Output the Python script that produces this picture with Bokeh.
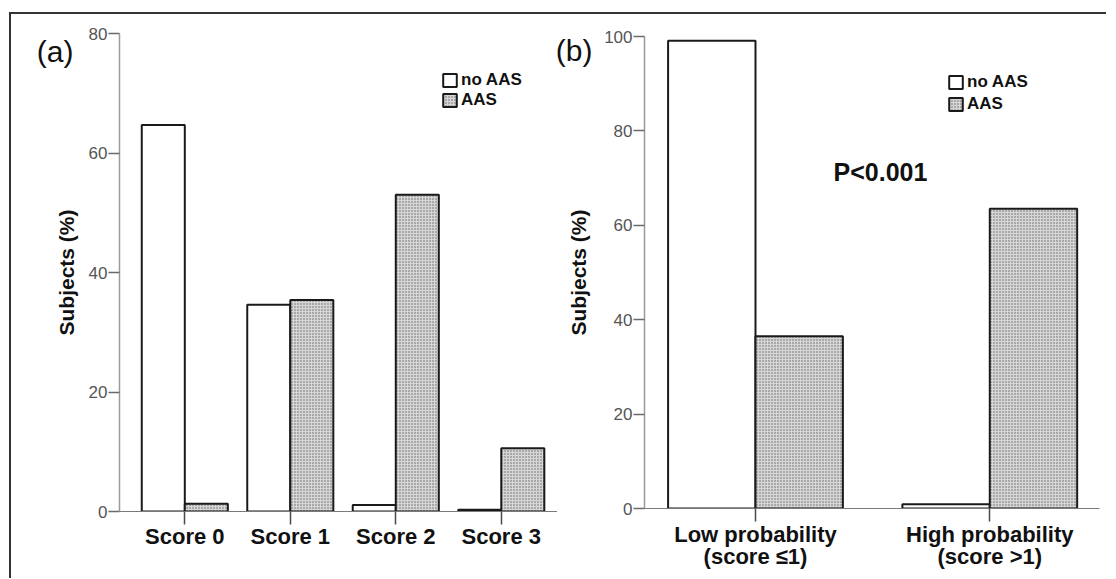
from bokeh.plotting import figure
from bokeh.models import (Range1d, FixedTicker, Legend, LegendItem, Label,
                          ColumnDataSource, LinearAxis)
from bokeh.layouts import row
from bokeh.transform import dodge
from bokeh.embed import file_html
from bokeh.resources import INLINE

# ---- data ----
cats_a = ["Score 0", "Score 1", "Score 2", "Score 3"]
no_aas_a = [64.7, 34.6, 1.1, 0.3]
aas_a = [1.3, 35.4, 53.0, 10.6]

cats_b = ["Low probability\n(score \u22641)", "High probability\n(score >1)"]
no_aas_b = [99.1, 0.9]
aas_b = [36.5, 63.5]

series_names = ["no AAS", "AAS"]
yticks_a = [0, 20, 40, 60, 80]
yticks_b = [0, 20, 40, 60, 80, 100]
panel_a = "(a)"
panel_b = "(b)"
y_title = "Subjects (%)"
p_text = "P<0.001"

FONT = "Liberation Sans"
BAR_LINE = "#1a1a1a"
AAS_FILL = "#d6d6d6"


def style_axes(p, yticks, xlabel_standoff):
    xa = p.xaxis[0]
    ya = p.yaxis[0]
    xa.axis_line_color = "#7a7a7a"
    xa.axis_line_width = 1.2
    xa.major_tick_line_color = "#4a4a4a"
    xa.major_tick_line_width = 1.5
    xa.major_tick_out = 13
    xa.major_tick_in = 0
    xa.minor_tick_line_color = None
    xa.major_label_text_font = FONT
    xa.major_label_text_font_style = "bold"
    xa.major_label_text_font_size = "22px"
    xa.major_label_text_color = "#111111"
    xa.major_label_standoff = xlabel_standoff
    xa.major_label_text_line_height = 0.9

    ya.axis_line_color = "#9a9a9a"
    ya.axis_line_width = 1.5
    ya.major_tick_line_color = "#6a6a6a"
    ya.major_tick_line_width = 1.5
    ya.major_tick_out = 11
    ya.major_tick_in = 0
    ya.minor_tick_line_color = None
    ya.ticker = FixedTicker(ticks=yticks)
    ya.major_label_text_font = FONT
    ya.major_label_text_font_size = "17px"
    ya.major_label_text_color = "#555555"
    ya.major_label_standoff = 1

    p.xgrid.grid_line_color = None
    p.ygrid.grid_line_color = None
    p.outline_line_color = None
    p.background_fill_color = "white"
    p.border_fill_color = "white"


def make_panel(cats, no_aas, aas, yticks, width, height, x_range, bar_w,
               borders, legend_pos, legend_spacing, tag, tag_y, tag_standoff,
               title_standoff, xlabel_standoff):
    idx = list(range(1, len(cats) + 1))
    src = ColumnDataSource(dict(x=idx, no=no_aas, yes=aas))
    p = figure(width=width, height=height, output_backend="svg",
               toolbar_location=None,
               x_range=Range1d(*x_range), y_range=Range1d(0, yticks[-1]),
               min_border_left=borders[0], min_border_right=borders[1],
               min_border_top=borders[2], min_border_bottom=borders[3])
    try:
        p.frame_align = False
    except AttributeError:
        pass
    r1 = p.vbar(x=dodge("x", -bar_w / 2, range=p.x_range), top="no", width=bar_w,
                source=src, fill_color="white", line_color=BAR_LINE, line_width=2)
    r2 = p.vbar(x=dodge("x", bar_w / 2, range=p.x_range), top="yes", width=bar_w,
                source=src, fill_color=AAS_FILL, line_color=BAR_LINE, line_width=2,
                hatch_pattern="dot", hatch_color="#666666", hatch_scale=3,
                hatch_weight=1.0)
    style_axes(p, yticks, xlabel_standoff)
    p.xaxis[0].ticker = FixedTicker(ticks=idx)
    p.xaxis[0].major_label_overrides = {i: c for i, c in zip(idx, cats)}

    # outer axis carrying the panel tag and the y title
    tag_axis = LinearAxis(ticker=FixedTicker(ticks=[tag_y]),
                          major_label_overrides={tag_y: tag})
    tag_axis.axis_line_color = None
    tag_axis.major_tick_line_color = None
    tag_axis.minor_tick_line_color = None
    tag_axis.major_tick_out = 0
    tag_axis.major_tick_in = 0
    tag_axis.major_label_standoff = tag_standoff
    tag_axis.major_label_text_font = FONT
    tag_axis.major_label_text_font_size = "30px"
    tag_axis.major_label_text_color = "#111111"
    tag_axis.axis_label = y_title
    tag_axis.axis_label_standoff = title_standoff
    tag_axis.axis_label_text_font = FONT
    tag_axis.axis_label_text_font_style = "bold"
    tag_axis.axis_label_text_font_size = "21px"
    tag_axis.axis_label_text_color = "#111111"
    p.add_layout(tag_axis, "left")

    legend = Legend(items=[LegendItem(label=series_names[0], renderers=[r1]),
                           LegendItem(label=series_names[1], renderers=[r2])],
                    location=legend_pos, orientation="vertical",
                    glyph_width=17, glyph_height=16, label_height=16,
                    label_standoff=3, spacing=legend_spacing, padding=0, margin=0,
                    border_line_color=None, background_fill_alpha=0,
                    label_text_font=FONT, label_text_font_style="bold",
                    label_text_font_size="17px", label_text_color="#111111")
    p.add_layout(legend)
    return p


p1 = make_panel(cats_a, no_aas_a, aas_a, yticks_a, 546, 564,
                (0.381, 4.533), 0.408, (108, 0, 19, 67), (322, 401), 0,
                panel_a, 77, 12, -44, -1)
p2 = make_panel(cats_b, no_aas_b, aas_b, yticks_b, 549, 564,
                (0.5263, 2.4683), 0.373, (87, 7, 22, 70), (303, 394), 2,
                panel_b, 97, 9, -37, 0)

p2.add_layout(Label(x=1.333, y=71.3, text=p_text, text_font=FONT,
                    text_font_style="bold", text_font_size="25px",
                    text_baseline="alphabetic", text_color="#111111"))

layout = row(p1, p2, spacing=0,
             styles={"border-top": "2px solid #333333",
                     "border-left": "2px solid #333333",
                     "margin-top": "12px", "margin-left": "9px"})

open("out.html", "w").write(file_html(layout, INLINE))
